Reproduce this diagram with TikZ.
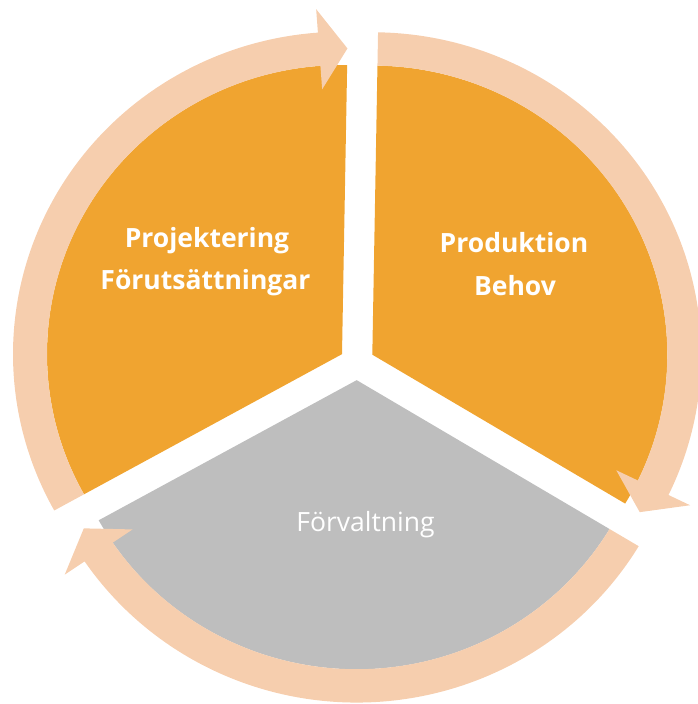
\documentclass[tikz,border=0pt]{standalone}
\usepackage{fontspec}
\setmainfont{Open Sans}
\begin{document}
\begin{tikzpicture}[x=1pt,y=1pt]
\definecolor{segorange}{RGB}{240,164,48}
\definecolor{seggray}{RGB}{190,190,190}
\definecolor{ringpeach}{RGB}{246,206,174}
\tikzset{
  ringarrow/.style={fill=ringpeach, draw=none},
  boldlabel/.style={text=white, font=\fontsize{26.5}{32}\selectfont\bfseries, anchor=base, inner sep=0pt},
  plainlabel/.style={text=white, font=\fontsize{26.5}{32}\selectfont, anchor=base, inner sep=0pt},
}
\useasboundingbox (0,0) rectangle (697,704);
\begin{scope}[shift={(357,341)}, yscale=0.98, rotate=-1]
  % Projektering sector (upper left)
  \begin{scope}[shift={(150:17.5)}]
    \fill[segorange] (0,0) -- (90:295) arc[start angle=90, end angle=210, radius=295] -- cycle;
    \fill[ringarrow] (210:329) arc[start angle=210, end angle=95.2, radius=329]
      -- (95.2:353) -- (90:312) -- (95.2:271) -- (95.2:295)
      arc[start angle=95.2, end angle=210, radius=295] -- cycle;
  \end{scope}
  % Produktion sector (upper right)
  \begin{scope}[shift={(30:17.5)}]
    \fill[segorange] (0,0) -- (-30:295) arc[start angle=-30, end angle=90, radius=295] -- cycle;
    \fill[ringarrow] (90:329) arc[start angle=90, end angle=-24.8, radius=329]
      -- (-24.8:353) -- (-30:312) -- (-24.8:271) -- (-24.8:295)
      arc[start angle=-24.8, end angle=90, radius=295] -- cycle;
  \end{scope}
  % Forvaltning sector (bottom)
  \begin{scope}[shift={(270:17.5)}]
    \fill[seggray] (0,0) -- (210:295) arc[start angle=210, end angle=330, radius=295] -- cycle;
    \fill[ringarrow] (330:329) arc[start angle=330, end angle=215.2, radius=329]
      -- (215.2:353) -- (210:312) -- (215.2:271) -- (215.2:295)
      arc[start angle=215.2, end angle=330, radius=295] -- cycle;
  \end{scope}
\end{scope}
\node[boldlabel] (proj1) at (207,456) {Projektering};
\node[boldlabel] (proj2) at (205.5,414) {Förutsättningar};
\node[boldlabel] (prod1) at (514,451) {Produktion};
\node[boldlabel] (prod2) at (515,408) {Behov};
\node[plainlabel] (forv) at (365.5,172.3) {Förvaltning};
\end{tikzpicture}
\end{document}
